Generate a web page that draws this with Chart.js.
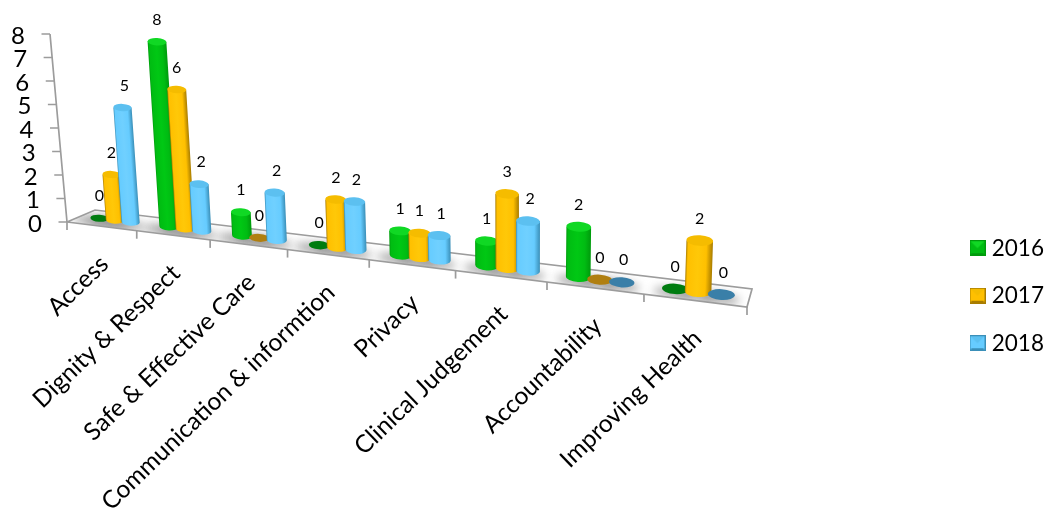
<!DOCTYPE html>
<html>
<head>
<meta charset="utf-8">
<style>
  html, body { margin: 0; padding: 0; background: #fff; }
  canvas { display: block; }
</style>
</head>
<body>
<canvas id="chart" width="1052" height="516"></canvas>
<script src="https://cdn.jsdelivr.net/npm/chart.js@4/dist/chart.umd.js"></script>
<script>
const categories = ["Access", "Dignity & Respect", "Safe & Effective Care", "Communication & informtion",
  "Privacy", "Clinical Judgement", "Accountability", "Improving Health"];
const seriesNames = ["2016", "2017", "2018"];
const values2016 = [0, 8, 1, 0, 1, 1, 2, 0];
const values2017 = [2, 6, 0, 2, 1, 3, 0, 2];
const values2018 = [5, 2, 2, 2, 1, 2, 0, 0];
const seriesValues = [values2016, values2017, values2018];

// edge, mid, highlight, cap, flat (zero height) shades for each series
const shades = [
  { edge: "#009a0c", mid: "#00bc12", light: "#00c814", cap: "#10d824", flat: "#007c10" },
  { edge: "#a87c00", mid: "#ffc000", light: "#ffc808", cap: "#f5bc00", flat: "#b07f10" },
  { edge: "#3a8fb8", mid: "#66ccff", light: "#70d0ff", cap: "#5cc0f0", flat: "#3a7fa8" },
];
const fontFamily = "Lato, 'Open Sans', sans-serif";

// floor corners of the tilted 3D plot: back edge and front edge
const floor = {
  backLeft: [95, 210], frontLeft: [67, 222],
  backRight: [752, 289], frontRight: [747, 307],
};
const depthK = 0.2;      // foreshortening along the category axis
const barDepth = 0.5;    // bars stand half way across the floor
const unitHeight = 181;  // full scale height at the far left
const heightGrow = 0.14;
const capRatio = 0.2;    // ellipse height against bar width
const vanishX = 520, vanishD = 5500; // verticals lean towards a point below the chart
const lineGrey = "#9c9c9c";

const lerp = (a, b, t) => a + (b - a) * t;
const along = (u) => (1 - depthK) * u / (1 - depthK * u);

// z: 0 = back edge, 1 = front edge
function floorPoint(u, z) {
  const t = along(u);
  const lx = lerp(floor.backLeft[0], floor.frontLeft[0], z);
  const ly = lerp(floor.backLeft[1], floor.frontLeft[1], z);
  const rx = lerp(floor.backRight[0], floor.frontRight[0], z);
  const ry = lerp(floor.backRight[1], floor.frontRight[1], z);
  return [lerp(lx, rx, t), lerp(ly, ry, t)];
}

function drawCylinder(ctx, u, halfU, v, shade) {
  const [bx, by] = floorPoint(u, barDepth);
  const w = floorPoint(u + halfU, barDepth)[0] - floorPoint(u - halfU, barDepth)[0];
  const rx = w / 2, ry = w * capRatio;
  const tilt = 0.06; // ellipses dip slightly with the floor
  const h = v * unitHeight * (1 + heightGrow * u);
  const lean = (vanishX - bx) / vanishD;
  const tx = bx - lean * h, ty = by - h;

  ctx.save();
  if (h < 1) {
    ctx.fillStyle = shade.flat;
    ctx.beginPath();
    ctx.ellipse(bx, by, rx, ry, tilt, 0, Math.PI * 2);
    ctx.fill();
  } else {
    ctx.beginPath();
    ctx.moveTo(tx - rx, ty);
    ctx.lineTo(bx - rx, by);
    ctx.ellipse(bx, by, rx, ry, tilt, Math.PI, 0, true);
    ctx.lineTo(tx + rx, ty);
    ctx.closePath();
    // the path is already fixed, so this shear only bends the shading along the bar
    ctx.save();
    ctx.transform(1, 0, lean, 1, bx, by);
    const grad = ctx.createLinearGradient(-rx, 0, rx, 0);
    grad.addColorStop(0, shade.edge);
    grad.addColorStop(0.07, shade.mid);
    grad.addColorStop(0.45, shade.light);
    grad.addColorStop(0.76, shade.mid);
    grad.addColorStop(1, shade.edge);
    ctx.fillStyle = grad;
    ctx.fill();
    ctx.restore();

    ctx.fillStyle = shade.cap;
    ctx.beginPath();
    ctx.ellipse(tx, ty, rx, ry, tilt, 0, Math.PI * 2);
    ctx.fill();
  }
  ctx.restore();
}

function drawFloor(ctx, chart) {
  const { backLeft, frontLeft, backRight, frontRight } = floor;
  const area = chart.chartArea;
  const metas = chart.getSortedVisibleDatasetMetas();

  // soft shadows under the bars, kept inside the floor
  ctx.save();
  ctx.beginPath();
  ctx.moveTo(...backLeft); ctx.lineTo(...backRight); ctx.lineTo(...frontRight); ctx.lineTo(...frontLeft);
  ctx.closePath();
  ctx.clip();
  ctx.filter = "blur(5px)";
  ctx.fillStyle = "rgba(120,120,120,0.65)";
  metas.forEach((meta) => meta.data.forEach((bar) => {
    const u = (bar.x - area.left) / area.width;
    const [x, y] = floorPoint(u, 0.72);
    ctx.beginPath();
    ctx.ellipse(x, y, 20, 5, 0.12, 0, Math.PI * 2);
    ctx.fill();
  }));
  ctx.restore();

  ctx.strokeStyle = lineGrey;
  ctx.lineWidth = 1.7;
  ctx.beginPath();
  ctx.moveTo(...frontLeft); ctx.lineTo(...backLeft); ctx.lineTo(...backRight);
  ctx.lineTo(...frontRight); ctx.lineTo(...frontLeft);
  ctx.stroke();

  // category boundary ticks hanging off the front edge
  const n = chart.scales.x.ticks.length;
  for (let i = 0; i <= n; i++) {
    const [x, y] = floorPoint(i / n, 1);
    ctx.beginPath();
    ctx.moveTo(x, y);
    ctx.lineTo(x, y + 8);
    ctx.stroke();
  }
}

// the wall axis runs from the floor corner up and to the left
function wallAxisX(py, area) {
  const v = (area.bottom - py) / area.height;
  return floor.frontLeft[0] - 17 * v;
}

function drawValueAxis(ctx, chart) {
  const yScale = chart.scales.y;
  const area = chart.chartArea;
  ctx.strokeStyle = lineGrey;
  ctx.lineWidth = 1.7;
  ctx.beginPath();
  ctx.moveTo(wallAxisX(area.top, area), area.top);
  ctx.lineTo(wallAxisX(area.bottom, area), area.bottom);
  yScale.ticks.forEach((tick) => {
    const py = yScale.getPixelForValue(tick.value);
    ctx.moveTo(wallAxisX(py, area), py);
    ctx.lineTo(wallAxisX(py, area) - 8.5, py);
  });
  ctx.stroke();

  ctx.fillStyle = "#000";
  ctx.font = "24px " + fontFamily;
  ctx.textAlign = "right";
  ctx.textBaseline = "middle";
  yScale.ticks.forEach((tick) => {
    const py = yScale.getPixelForValue(tick.value);
    ctx.fillText(tick.label, wallAxisX(py, area) - 25, py + 2);
  });
}

const cylinderBars = {
  id: "cylinderBars",
  afterLayout(chart) {
    // the legend sits low on the right, beside the floor rather than the wall
    const legend = chart.legend;
    legend.left = 949.5;
    legend.right = 1052;
    legend.top = 212;
    legend.bottom = 516;
  },
  beforeDatasetsDraw(chart) {
    const ctx = chart.ctx;
    const area = chart.chartArea;
    ctx.save();
    drawFloor(ctx, chart);
    drawValueAxis(ctx, chart);

    const metas = chart.getSortedVisibleDatasetMetas();
    metas.forEach((meta, s) => {
      meta.data.forEach((bar) => {
        const u = (bar.x - area.left) / area.width;
        const v = (area.bottom - bar.y) / area.height;
        drawCylinder(ctx, u, (bar.width / 2) / area.width, v, shades[s]);
      });
    });

    // value labels above the bar tops
    ctx.fillStyle = "#000";
    ctx.font = "16px " + fontFamily;
    ctx.textAlign = "center";
    ctx.textBaseline = "middle";
    metas.forEach((meta, s) => {
      meta.data.forEach((bar, i) => {
        const u = (bar.x - area.left) / area.width;
        const v = (area.bottom - bar.y) / area.height;
        const [bx, by] = floorPoint(u, barDepth);
        const h = v * unitHeight * (1 + heightGrow * u);
        const lean = (vanishX - bx) / vanishD;
        ctx.fillText(String(seriesValues[s][i]), bx - lean * h + (s === 2 ? 2 : 0), by - h - 22);
      });
    });

    // category labels along the front edge
    const xScale = chart.scales.x;
    ctx.font = "24.5px " + fontFamily;
    ctx.textAlign = "right";
    xScale.ticks.forEach((tick, i) => {
      const u = (xScale.getPixelForTick(i) - area.left) / area.width;
      const [x, y] = floorPoint(u, 1);
      ctx.save();
      ctx.translate(x + 3, y + 34);
      ctx.rotate(-44 * Math.PI / 180);
      ctx.fillText(categories[i], 0, 0);
      ctx.restore();
    });
    ctx.restore();
    return false; // the cylinders replace the default flat bars
  },
};

function legendIcon(shade) {
  const c = document.createElement("canvas");
  c.width = c.height = 16;
  const g = c.getContext("2d");
  const face = (color, pts) => {
    g.fillStyle = color;
    g.beginPath();
    pts.forEach((p) => g.lineTo(p[0], p[1]));
    g.closePath();
    g.fill();
  };
  face(shade.edge, [[0, 0], [16, 0], [16, 16], [0, 16]]);
  face(shade.mid, [[1, 1], [15, 1], [15, 15], [1, 15]]);
  face(shade.cap, [[1, 1], [15, 1], [8, 8]]);
  face(shade.edge, [[1, 15], [15, 15], [14, 13], [2, 13]]);
  return c;
}

new Chart(document.getElementById("chart"), {
  type: "bar",
  plugins: [cylinderBars],
  data: {
    labels: categories,
    datasets: seriesNames.map((name, s) => ({
      label: name,
      data: seriesValues[s],
      backgroundColor: shades[s].mid,
      categoryPercentage: 0.685,
      barPercentage: 1.15,
    })),
  },
  options: {
    responsive: false,
    animation: false,
    layout: { padding: { top: 34, bottom: 294, left: 50, right: 0 } },
    scales: {
      x: { display: false, offset: true, grid: { display: false }, ticks: { autoSkip: false } },
      y: { display: false, min: 0, max: 8, ticks: { stepSize: 1 } },
    },
    plugins: {
      tooltip: { enabled: false },
      legend: {
        position: "right",
        align: "start",
        labels: {
          usePointStyle: true,
          boxWidth: 6,
          padding: 25,
          color: "#000",
          font: { family: fontFamily, size: 22.5 },
          generateLabels: (chart) => chart.data.datasets.map((ds, s) => ({
            text: ds.label,
            fontColor: "#000",
            pointStyle: legendIcon(shades[s]),
            datasetIndex: s,
          })),
        },
      },
    },
  },
});
</script>
</body>
</html>
